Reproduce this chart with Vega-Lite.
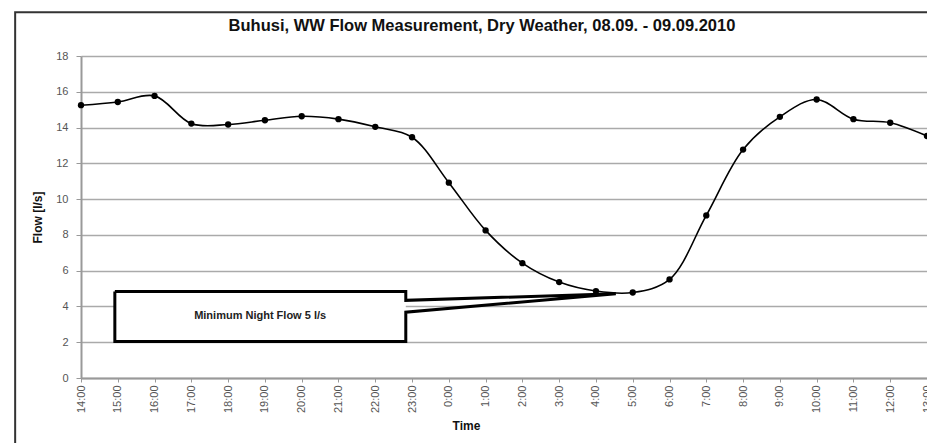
{
  "$schema": "https://vega.github.io/schema/vega-lite/v6.json",
  "width": 846,
  "height": 322,
  "autosize": {"type": "none"},
  "padding": {"left": 81, "top": 56, "right": 0, "bottom": 65},
  "background": "white",
  "config": {
    "font": "Liberation Sans",
    "view": {"stroke": null},
    "axisX": {
      "labelAngle": -90,
      "labelAlign": "right",
      "labelBaseline": "middle",
      "labelFontSize": 11,
      "labelColor": "#555",
      "labelPadding": 3,
      "labelOverlap": false,
      "labelFlush": false,
      "grid": false,
      "domainColor": "#999",
      "domainWidth": 2,
      "tickColor": "#999",
      "tickSize": 4,
      "titleFontSize": 12,
      "titleFontWeight": "bold",
      "titleColor": "#111",
      "titleX": 385,
      "titleY": 47,
      "titleAlign": "center",
      "titleBaseline": "middle"
    },
    "axisY": {
      "labelFontSize": 11,
      "labelColor": "#555",
      "labelPadding": 8,
      "labelOverlap": false,
      "grid": true,
      "gridColor": "#aaa",
      "gridWidth": 1.5,
      "domainColor": "#999",
      "domainWidth": 2,
      "tickColor": "#999",
      "tickSize": 5,
      "titleFontSize": 12,
      "titleFontWeight": "bold",
      "titleColor": "#111",
      "titlePadding": 11
    }
  },
  "title": {
    "text": "Buhusi, WW Flow Measurement, Dry Weather, 08.09. - 09.09.2010",
    "fontSize": 16.5,
    "fontWeight": "bold",
    "color": "#111",
    "anchor": "middle",
    "dx": -22,
    "offset": -23
  },
  "datasets": {
    "flow": [
      {"t": 0, "time": "14:00", "flow": 15.25},
      {"t": 1, "time": "15:00", "flow": 15.43},
      {"t": 2, "time": "16:00", "flow": 15.77},
      {"t": 3, "time": "17:00", "flow": 14.22},
      {"t": 4, "time": "18:00", "flow": 14.17},
      {"t": 5, "time": "19:00", "flow": 14.41},
      {"t": 6, "time": "20:00", "flow": 14.63},
      {"t": 7, "time": "21:00", "flow": 14.47},
      {"t": 8, "time": "22:00", "flow": 14.04},
      {"t": 9, "time": "23:00", "flow": 13.46},
      {"t": 10, "time": "0:00", "flow": 10.92},
      {"t": 11, "time": "1:00", "flow": 8.25},
      {"t": 12, "time": "2:00", "flow": 6.42},
      {"t": 13, "time": "3:00", "flow": 5.36},
      {"t": 14, "time": "4:00", "flow": 4.86},
      {"t": 15, "time": "5:00", "flow": 4.78},
      {"t": 16, "time": "6:00", "flow": 5.51},
      {"t": 17, "time": "7:00", "flow": 9.09},
      {"t": 18, "time": "8:00", "flow": 12.77},
      {"t": 19, "time": "9:00", "flow": 14.6},
      {"t": 20, "time": "10:00", "flow": 15.57},
      {"t": 21, "time": "11:00", "flow": 14.47},
      {"t": 22, "time": "12:00", "flow": 14.27},
      {"t": 23, "time": "13:00", "flow": 13.53}
    ],
    "callout": [
      {"o": 1, "x": 0.92, "y": 4.84},
      {"o": 2, "x": 8.83, "y": 4.84},
      {"o": 3, "x": 8.83, "y": 4.34},
      {"o": 4, "x": 14.54, "y": 4.71},
      {"o": 5, "x": 8.83, "y": 3.68},
      {"o": 6, "x": 8.83, "y": 2.04},
      {"o": 7, "x": 0.92, "y": 2.04},
      {"o": 8, "x": 0.92, "y": 4.84}
    ],
    "box": [
      {"x": 0.92, "x2": 8.83, "y": 2.04, "y2": 4.84, "label": "Minimum Night Flow 5 l/s", "cx": 4.87, "cy": 3.44}
    ],
    "frame": [
      {"x": -1.79, "x2": 26, "y": -4, "y2": 20.45}
    ]
  },
  "layer": [
    {
      "data": {"name": "flow"},
      "mark": {"type": "line", "color": "#000", "strokeWidth": 1.6, "interpolate": "catmull-rom"},
      "encoding": {
        "x": {
          "field": "t", "type": "quantitative",
          "scale": {"domain": [0, 23], "nice": false, "zero": false},
          "axis": {"values": [0,1,2,3,4,5,6,7,8,9,10,11,12,13,14,15,16,17,18,19,20,21,22,23], "labelExpr": "((datum.value + 14) % 24) + ':00'", "title": "Time"}
        },
        "y": {
          "field": "flow", "type": "quantitative",
          "scale": {"domain": [0, 18], "nice": false},
          "axis": {"values": [0, 2, 4, 6, 8, 10, 12, 14, 16, 18], "title": "Flow [l/s]"}
        }
      }
    },
    {
      "data": {"name": "frame"},
      "mark": {"type": "rect", "fill": null, "stroke": "#333", "strokeWidth": 2, "clip": false},
      "encoding": {
        "x": {"field": "x", "type": "quantitative",
          "axis": {"values": [0,1,2,3,4,5,6,7,8,9,10,11,12,13,14,15,16,17,18,19,20,21,22,23], "labelExpr": "((datum.value + 14) % 24) + ':00'", "title": "Time"}},
        "x2": {"field": "x2"},
        "y": {"field": "y", "type": "quantitative",
          "axis": {"values": [0, 2, 4, 6, 8, 10, 12, 14, 16, 18], "title": "Flow [l/s]"}},
        "y2": {"field": "y2"}
      }
    },
    {
      "data": {"name": "flow"},
      "mark": {"type": "point", "filled": true, "color": "#000", "size": 40, "opacity": 1},
      "encoding": {
        "x": {"field": "t", "type": "quantitative",
          "axis": {"values": [0,1,2,3,4,5,6,7,8,9,10,11,12,13,14,15,16,17,18,19,20,21,22,23], "labelExpr": "((datum.value + 14) % 24) + ':00'", "title": "Time"}},
        "y": {"field": "flow", "type": "quantitative",
          "axis": {"values": [0, 2, 4, 6, 8, 10, 12, 14, 16, 18], "title": "Flow [l/s]"}}
      }
    },
    {
      "data": {"name": "box"},
      "mark": {"type": "rect", "fill": "white", "stroke": null},
      "encoding": {
        "x": {"field": "x", "type": "quantitative",
          "axis": {"values": [0,1,2,3,4,5,6,7,8,9,10,11,12,13,14,15,16,17,18,19,20,21,22,23], "labelExpr": "((datum.value + 14) % 24) + ':00'", "title": "Time"}},
        "x2": {"field": "x2"},
        "y": {"field": "y", "type": "quantitative",
          "axis": {"values": [0, 2, 4, 6, 8, 10, 12, 14, 16, 18], "title": "Flow [l/s]"}},
        "y2": {"field": "y2"}
      }
    },
    {
      "data": {"name": "callout"},
      "mark": {"type": "line", "color": "#000", "strokeWidth": 3, "strokeJoin": "miter"},
      "encoding": {
        "x": {"field": "x", "type": "quantitative",
          "axis": {"values": [0,1,2,3,4,5,6,7,8,9,10,11,12,13,14,15,16,17,18,19,20,21,22,23], "labelExpr": "((datum.value + 14) % 24) + ':00'", "title": "Time"}},
        "y": {"field": "y", "type": "quantitative",
          "axis": {"values": [0, 2, 4, 6, 8, 10, 12, 14, 16, 18], "title": "Flow [l/s]"}},
        "order": {"field": "o", "type": "quantitative"}
      }
    },
    {
      "data": {"name": "box"},
      "mark": {"type": "text", "fontSize": 11, "fontWeight": "bold", "color": "#222", "align": "center", "baseline": "middle"},
      "encoding": {
        "x": {"field": "cx", "type": "quantitative",
          "axis": {"values": [0,1,2,3,4,5,6,7,8,9,10,11,12,13,14,15,16,17,18,19,20,21,22,23], "labelExpr": "((datum.value + 14) % 24) + ':00'", "title": "Time"}},
        "y": {"field": "cy", "type": "quantitative",
          "axis": {"values": [0, 2, 4, 6, 8, 10, 12, 14, 16, 18], "title": "Flow [l/s]"}},
        "text": {"field": "label"}
      }
    }
  ]
}
